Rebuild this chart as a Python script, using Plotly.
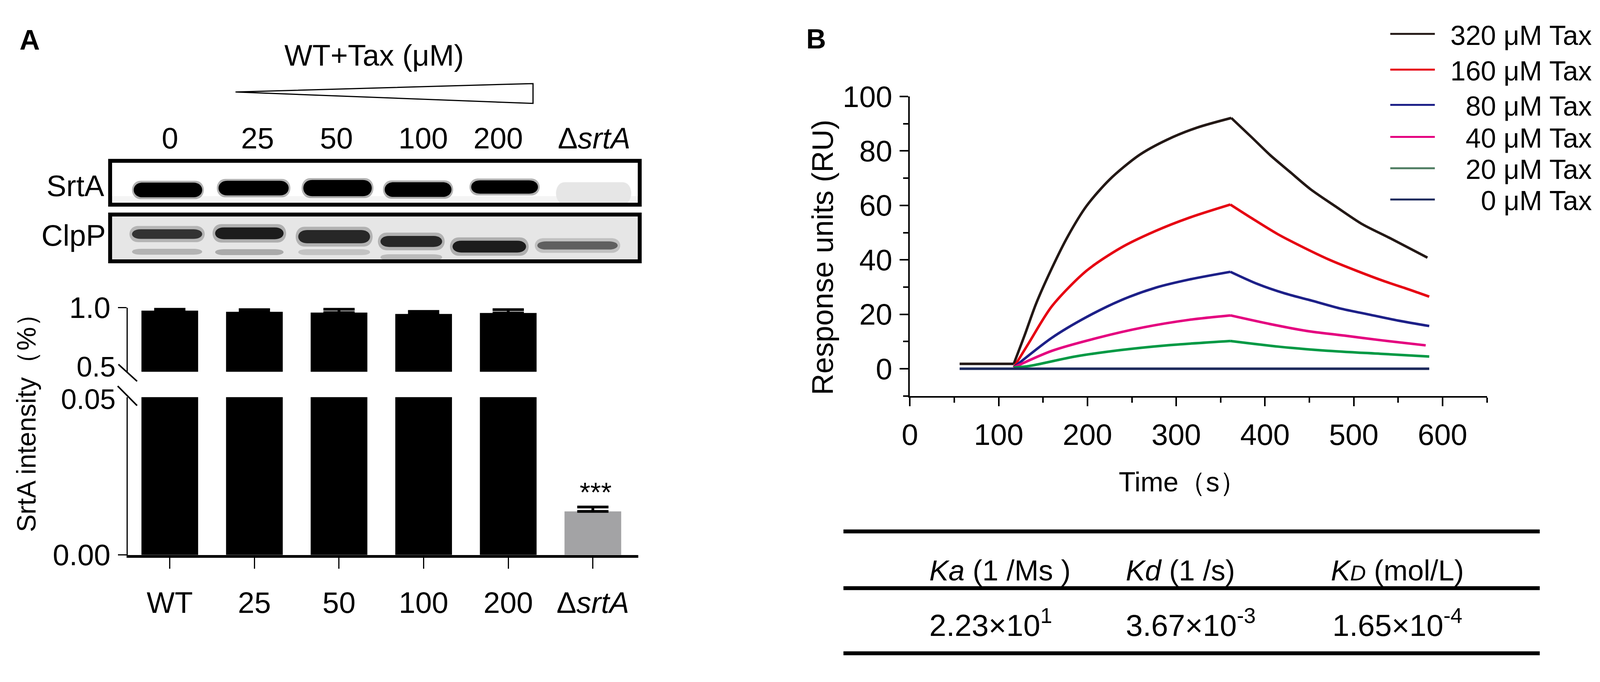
import plotly.graph_objects as go

W, H = 4413, 1746

# ---- panel A : western blot + densitometry ----
groups = ['WT', '25', '50', '100', '200', 'ΔsrtA']
group_labels = ['WT', '25', '50', '100', '200', 'Δ<i>srtA</i>']
srta_intensity = [0.977, 0.968, 0.962, 0.951, 0.959, 0.0138]
srta_err = [0.011, 0.017, 0.026, 0.020, 0.026, 0.0014]
bar_colors = ['black'] * 5 + ['#a3a3a5']

lane_labels = ['0', '25', '50', '100', '200', 'Δ<i>srtA</i>']
srta_band = [1.0, 1.0, 1.0, 1.0, 1.0, 0.04]
clpp_band = [0.85, 0.95, 0.9, 0.9, 0.95, 0.65]
clpp_lower_band = [0.35, 0.4, 0.25, 0.3, 0.0, 0.0]

# ---- panel B : SPR sensorgrams ----
conc_labels = ['320 μM Tax', '160 μM Tax', '80 μM Tax', '40 μM Tax', '20 μM Tax', '0 μM Tax']
t_320 = [56, 117, 129, 142, 160, 178, 199, 225, 258, 289, 323, 362, 385, 406, 427, 451, 480, 509, 540, 583]
r_320 = [1.8, 1.8, 12.1, 23.8, 37.0, 48.7, 59.8, 69.5, 78.4, 84.0, 88.5, 92.1, 85.0, 78.4, 72.6, 66.0, 59.5, 53.2, 48.1, 40.8]
t_160 = [117, 134, 160, 199, 238, 276, 315, 361, 385, 414, 443, 472, 503, 534, 565, 585]
r_160 = [0.5, 9.5, 23.0, 36.0, 44.5, 50.5, 55.5, 60.3, 55.3, 49.5, 44.6, 40.1, 36.0, 32.2, 28.8, 26.5]
t_80 = [117, 160, 199, 238, 276, 315, 361, 391, 422, 453, 484, 519, 550, 585]
r_80 = [0.5, 11.4, 19.0, 25.2, 29.7, 32.8, 35.6, 31.2, 27.7, 25.0, 22.2, 19.8, 17.7, 15.7]
t_40 = [117, 160, 212, 263, 315, 361, 406, 447, 489, 530, 581]
r_40 = [0.5, 6.6, 11.4, 15.2, 18.0, 19.6, 16.4, 13.9, 12.2, 10.5, 8.6]
t_20 = [117, 134, 186, 238, 289, 361, 416, 467, 530, 585]
r_20 = [0.5, 1.0, 4.5, 6.9, 8.6, 10.2, 8.1, 6.7, 5.5, 4.5]
t_0 = [56, 585]
r_0 = [0.0, 0.0]

series_t = [t_320, t_160, t_80, t_40, t_20, t_0]
series_r = [r_320, r_160, r_80, r_40, r_20, r_0]
line_colors = ['#231815', '#e60012', '#1d2088', '#e4007f', '#009944', '#1d2a5c']
legend_colors = ['#231815', '#e60012', '#1d2088', '#e4007f', '#4f7d62', '#1d2a5c']

# kinetics table
table_headers = ['<i>Ka</i> (1 /Ms )', '<i>Kd</i> (1 /s)', "<i>K</i><i><span style='font-size:56px'>D</span></i> (mol/L)"]
table_mantissa = ['2.23', '3.67', '1.65']
table_exponent = ['1', '-3', '-4']

FONT = 'Liberation Sans, Arial'


def px(x):
    return x / W


def py(y):
    return 1 - y / H


fig = go.Figure()

# bars, lower segment (0 - 0.05)
fig.add_trace(go.Bar(
    x=groups, y=srta_intensity, marker=dict(color=bar_colors, line=dict(width=0)),
    width=0.67, xaxis='x', yaxis='y',
    error_y=dict(type='data', symmetric=False,
                 array=[e if v < 0.05 else 0 for v, e in zip(srta_intensity, srta_err)],
                 arrayminus=[0] * 6, color='black', thickness=7, width=40),
))
# bars, upper segment (0.5 - 1.0)
fig.add_trace(go.Bar(
    x=groups, y=srta_intensity, marker=dict(color=bar_colors, line=dict(width=0)),
    width=0.67, xaxis='x2', yaxis='y2',
    error_y=dict(type='data', symmetric=False,
                 array=[e if v > 0.5 else 0 for v, e in zip(srta_intensity, srta_err)],
                 arrayminus=[0] * 6, color='black', thickness=7, width=40),
))

# SPR curves: each phase drawn as its own smooth piece
for t, r, c in zip(series_t, series_r, line_colors):
    peak = r.index(max(r))
    cuts = [0]
    if len(r) > 2 and r[0] == r[1]:
        cuts.append(1)
    if 0 < peak < len(r) - 1:
        cuts.append(peak)
    cuts.append(len(r) - 1)
    for a, b in zip(cuts[:-1], cuts[1:]):
        fig.add_trace(go.Scatter(x=t[a:b + 1], y=r[a:b + 1], mode='lines',
                                 line=dict(color=c, width=6.5, shape='spline', smoothing=0.8),
                                 xaxis='x4', yaxis='y4', hoverinfo='skip'))

shapes = []


def pill(xc, hw, yc, hh, color, opacity):
    r = min(0.12, hw)
    x0, x1 = xc - hw, xc + hw
    y0, y1 = yc - hh, yc + hh
    path = (f'M {x0 + r},{y0} L {x1 - r},{y0} '
            f'C {x1 + r * 0.15},{y0} {x1 + r * 0.15},{y1} {x1 - r},{y1} '
            f'L {x0 + r},{y1} C {x0 - r * 0.15},{y1} {x0 - r * 0.15},{y0} {x0 + r},{y0} Z')
    return dict(type='path', path=path, xref='x3', yref='y3', fillcolor=color,
                opacity=opacity, line=dict(width=0), layer='above')


def grey(v):
    g = int(240 * (1 - v))
    return f'rgb({g},{g},{g})'


# blot backgrounds
shapes.append(dict(type='rect', xref='paper', yref='paper', x0=px(275), x1=px(1749), y0=py(503), y1=py(384),
                   fillcolor='white', line=dict(width=0), layer='above'))
shapes.append(dict(type='rect', xref='paper', yref='paper', x0=px(275), x1=px(1749), y0=py(503), y1=py(480),
                   fillcolor='#f4f4f4', line=dict(width=0), layer='above'))
shapes.append(dict(type='rect', xref='paper', yref='paper', x0=px(275), x1=px(1749), y0=py(657), y1=py(530),
                   fillcolor='#e6e6e6', line=dict(width=0), layer='above'))

srta_shift = [0.0, 0.01, 0.0, -0.05, -0.03, 0.02]
srta_y = [463, 458, 458, 462, 455, 472]
srta_hh = [20, 20, 22, 20, 18, 30]
srta_hw = [0.42, 0.43, 0.42, 0.41, 0.41, 0.46]
for i, v in enumerate(srta_band):
    if v > 0.5:
        shapes.append(pill(i + srta_shift[i], srta_hw[i] + 0.02, srta_y[i], srta_hh[i] + 5, grey(v), 0.3))
    shapes.append(pill(i + srta_shift[i], srta_hw[i], srta_y[i], srta_hh[i], grey(v), 1.0))

clpp_shift = [-0.01, -0.04, -0.04, -0.13, -0.21, -0.17]
clpp_y = [583, 581, 590, 603, 617, 614]
clpp_hh = [13, 16, 18, 15, 16, 11]
clpp_hw = [0.43, 0.42, 0.44, 0.38, 0.45, 0.49]
lower_y = [631, 632, 632, 646, 640, 640]
for i, v in enumerate(clpp_band):
    if clpp_lower_band[i] > 0:
        shapes.append(pill(i + clpp_shift[i], clpp_hw[i], lower_y[i], 8, grey(clpp_lower_band[i]), 0.7))
    shapes.append(pill(i + clpp_shift[i], clpp_hw[i] + 0.03, clpp_y[i], clpp_hh[i] + 9, grey(v), 0.25))
    shapes.append(pill(i + clpp_shift[i], clpp_hw[i], clpp_y[i], clpp_hh[i], grey(v), 0.9))

# blot frames
for y0, y1 in [(384, 503), (530, 657)]:
    shapes.append(dict(type='rect', xref='paper', yref='paper', x0=px(275), x1=px(1749), y0=py(y1), y1=py(y0),
                       line=dict(color='black', width=10), layer='above'))

# concentration wedge
shapes.append(dict(type='path', xref='paper', yref='paper',
                   path=f'M {px(624)},{py(197)} L {px(1452)},{py(174)} L {px(1452)},{py(228)} Z',
                   fillcolor='white', line=dict(color='black', width=3)))

# axis break marks
for (xa, ya, xb, yb) in [(298, 937, 350, 983), (296, 996, 350, 1049)]:
    shapes.append(dict(type='line', xref='paper', yref='paper', x0=px(xa), y0=py(ya), x1=px(xb), y1=py(yb),
                       line=dict(color='black', width=4)))

# SPR legend lines
legend_y = [39, 136, 232, 319, 404, 489]
for ly, c in zip(legend_y, legend_colors):
    shapes.append(dict(type='line', xref='paper', yref='paper', x0=px(3838), x1=px(3962), y0=py(ly), y1=py(ly),
                       line=dict(color=c, width=5)))

# table rules
for ty in [1391, 1545, 1722]:
    shapes.append(dict(type='line', xref='paper', yref='paper', x0=px(2316), x1=px(4254), y0=py(ty), y1=py(ty),
                       line=dict(color='black', width=10)))

ann = []


def text(x, y, s, size, xanchor='center', angle=0, bold=False):
    if bold:
        s = f'<b>{s}</b>'
    ann.append(dict(x=px(x), y=py(y), xref='paper', yref='paper', text=s, showarrow=False,
                    xanchor=xanchor, yanchor='middle', textangle=angle,
                    font=dict(family=FONT, size=size, color='black')))


text(51, 55, 'A', 72, bold=True)
text(2240, 53, 'B', 70, bold=True)
text(1010, 97, 'WT+Tax (μM)', 76)
lane_x = [441, 686, 905, 1147, 1355, 1622]
for x, s in zip(lane_x, lane_labels):
    text(x, 322, s, 76)
text(178, 452, 'SrtA', 76)
text(173, 586, 'ClpP', 76)
text(41, 1078, 'SrtA intensity（%）', 68, angle=-90)
text(1627, 1285, '***', 70)
# break-point labels of the split axis
text(293, 944, '0.5', 72, xanchor='right')
text(293, 1032, '0.05', 72, xanchor='right')

for ly, s in zip(legend_y, conc_labels):
    text(4401, ly + 4, s, 70, xanchor='right')
text(2258, 646, 'Response units (RU)', 76, angle=-90)
text(3261, 1257, 'Time（s）', 70)

header_x = [2553, 3100, 3670]
value_x = [2553, 3100, 3675]
for x, s in zip(header_x, table_headers):
    text(x, 1497, s, 74, xanchor='left')
for x, m, e in zip(value_x, table_mantissa, table_exponent):
    text(x, 1640, f'{m}×10<sup>{e}</sup>', 78, xanchor='left')

axis_common = dict(showgrid=False, zeroline=False, linecolor='black', tickcolor='black')
tick_font = dict(family=FONT, size=76, color='black')

fig.update_layout(
    autosize=True,
    margin=dict(l=0, r=0, t=0, b=0),
    paper_bgcolor='white', plot_bgcolor='rgba(0,0,0,0)',
    showlegend=False, bargap=0.33,
    shapes=shapes, annotations=ann,
    xaxis=dict(domain=[px(324), px(1745)], anchor='y', type='category', range=[-0.497, 5.537],
               tickvals=groups, ticktext=group_labels, showline=True, linewidth=7,
               ticks='outside', ticklen=28, tickwidth=3, ticklabelstandoff=22,
               tickfont=tick_font, **axis_common),
    yaxis=dict(domain=[py(1455), py(1026)], anchor='x', range=[0, 0.05],
               tickvals=[0], ticktext=['0.00'], showline=True, linewidth=3,
               ticks='outside', ticklen=22, tickwidth=3, ticklabelstandoff=4,
               tickfont=tick_font, **axis_common),
    xaxis2=dict(domain=[px(324), px(1745)], anchor='y2', type='category', range=[-0.497, 5.537],
                visible=False, **axis_common),
    yaxis2=dict(domain=[py(957), py(783)], anchor='x2', range=[0.5, 1.0],
                tickvals=[1.0], ticktext=['1.0'], showline=True, linewidth=3,
                ticks='outside', ticklen=22, tickwidth=3, ticklabelstandoff=4,
                tickfont=tick_font, **axis_common),
    xaxis3=dict(domain=[px(270), px(1754)], anchor='y3', range=[-0.703, 5.585], visible=False),
    yaxis3=dict(domain=[py(662), py(379)], anchor='x3', range=[662, 379], visible=False),
    xaxis4=dict(domain=[px(2501), px(4107)], anchor='y4', range=[0, 650],
                tickvals=[0, 100, 200, 300, 400, 500, 600], showline=True, linewidth=4,
                ticks='outside', ticklen=22, tickwidth=4, ticklabelstandoff=8,
                minor=dict(dtick=50, tick0=0, ticks='outside', ticklen=13, tickwidth=4, tickcolor='black'),
                tickfont=tick_font, **axis_common),
    yaxis4=dict(domain=[py(1023), py(209)], anchor='x4', range=[-10, 100],
                tickvals=[0, 20, 40, 60, 80, 100], showline=True, linewidth=4,
                ticks='outside', ticklen=22, tickwidth=4, ticklabelstandoff=4,
                minor=dict(dtick=10, tick0=0, ticks='outside', ticklen=13, tickwidth=4, tickcolor='black'),
                tickfont=tick_font, **axis_common),
)

fig.write_html('out.html', default_width='calc(100vw - 16px)', default_height='calc(100vh - 16px)')
